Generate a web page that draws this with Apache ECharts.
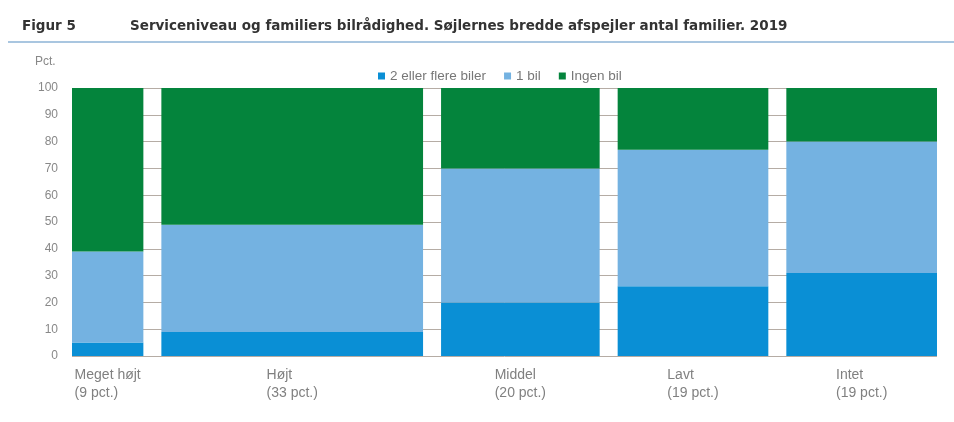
<!DOCTYPE html>
<html><head><meta charset="utf-8">
<script src="https://cdn.jsdelivr.net/npm/echarts@6/dist/echarts.min.js"></script>
<style>html,body{margin:0;padding:0;background:#fff}#c{width:954px;height:422px}</style>
</head><body><div id="c"></div>
<script>
const categories = ['Meget højt', 'Højt', 'Middel', 'Lavt', 'Intet'];
const shares = [9, 33, 20, 19, 19];
const shareLabels = ['(9 pct.)', '(33 pct.)', '(20 pct.)', '(19 pct.)', '(19 pct.)'];
const seriesNames = ['2 eller flere biler', '1 bil', 'Ingen bil'];
const twoPlusCars = [5, 9, 20, 26, 31];
const oneCar = [34, 40, 50, 51, 49];
const noCar = [61, 51, 30, 23, 20];
const yTickLabels = ['0', '10', '20', '30', '40', '50', '60', '70', '80', '90', '100'];

const FONT = '"Liberation Sans", Arial, sans-serif';
const TITLE_FONT = '"DejaVu Sans", "Liberation Sans", sans-serif';
const GAP = 2.27;
const colors = ['#0a8fd5', '#74b2e1', '#04843c'];
const valuesBySeries = [twoPlusCars, oneCar, noCar];

const starts = [];
let acc = 0;
shares.forEach((s) => { starts.push(acc); acc += s + GAP; });
const xMax = acc - GAP;
const centers = starts.map((s, i) => s + shares[i] / 2);

function seriesData(k) {
  return categories.map((c, i) => {
    let base = 0;
    for (let j = 0; j < k; j++) base += valuesBySeries[j][i];
    return [starts[i], starts[i] + shares[i], base, base + valuesBySeries[k][i]];
  });
}

function renderItem(params, api) {
  const p0 = api.coord([api.value(0), api.value(2)]);
  const p1 = api.coord([api.value(1), api.value(3)]);
  return {
    type: 'rect',
    shape: { x: p0[0], y: p1[1], width: p1[0] - p0[0], height: p0[1] - p1[1] },
    style: { fill: api.visual('color') }
  };
}

const chart = echarts.init(document.getElementById('c'), null, { renderer: 'canvas' });
chart.setOption({
  animation: false,
  backgroundColor: '#fff',
  grid: { left: 72, right: 17, top: 88, bottom: 66, containLabel: false },
  legend: {
    top: 64, left: 373,
    itemWidth: 7, itemHeight: 7, itemGap: 18,
    icon: 'rect',
    textStyle: { color: '#777', fontSize: 13.5, fontFamily: FONT },
    data: seriesNames
  },
  xAxis: {
    type: 'value', min: 0, max: xMax,
    axisLine: { show: false }, axisTick: { show: false }, splitLine: { show: false },
    axisLabel: {
      customValues: centers,
      margin: 10,
      formatter: function (v) {
        const i = centers.findIndex(c => Math.abs(c - v) < 0.01);
        if (i < 0) return '';
        return '{a|' + categories[i] + '}\n{a|' + shareLabels[i] + '}';
      },
      rich: { a: { align: 'left', color: '#808080', fontSize: 14, lineHeight: 18, fontFamily: FONT } }
    }
  },
  yAxis: {
    type: 'value', min: 0, max: 100, interval: 10,
    axisLine: { show: false }, axisTick: { show: false },
    splitLine: { show: true, lineStyle: { color: '#b5aca4', width: 1 } },
    axisLabel: {
      margin: 14, color: '#888', fontSize: 12, fontFamily: FONT,
      formatter: (v) => yTickLabels[Math.round(v / 10)]
    }
  },
  graphic: [
    { type: 'text', left: 22, top: 19, style: { text: 'Figur 5', font: 'bold 13.5px ' + TITLE_FONT, fill: '#333' } },
    { type: 'text', left: 130, top: 19, style: { text: 'Serviceniveau og familiers bilrådighed. Søjlernes bredde afspejler antal familier. 2019', font: 'bold 13.5px ' + TITLE_FONT, fill: '#333' } },
    { type: 'line', shape: { x1: 8, y1: 42, x2: 954, y2: 42 }, style: { stroke: '#8db3d6', lineWidth: 1.5 } },
    { type: 'text', left: 35, top: 56, style: { text: 'Pct.', font: '12px ' + FONT, fill: '#888' } }
  ],
  series: seriesNames.map((name, k) => ({
    type: 'custom',
    name: name,
    renderItem: renderItem,
    itemStyle: { color: colors[k] },
    encode: { x: [0, 1], y: [2, 3] },
    data: seriesData(k)
  }))
});
</script></body></html>
